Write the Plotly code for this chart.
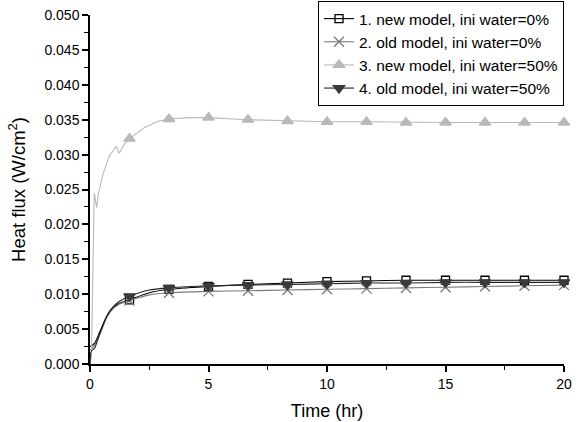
import plotly.graph_objects as go

# ---- data ----
names = [
    "1. new model, ini water=0%",
    "2. old model, ini water=0%",
    "3. new model, ini water=50%",
    "4. old model, ini water=50%",
]

t1 = [0, 0.2, 0.4, 0.6, 0.8, 1.0, 1.25, 1.667, 2.5, 3.333, 5.0, 6.667, 8.333, 10.0, 11.667, 13.333, 15.0, 16.667, 18.333, 20.0]
q1 = [0.0025, 0.0030, 0.0045, 0.0061, 0.0074, 0.0082, 0.0087, 0.0092, 0.0102, 0.0107, 0.0111, 0.0114, 0.0116, 0.0118, 0.0119, 0.0120, 0.0120, 0.0120, 0.0120, 0.0120]

t2 = [0, 0.2, 0.45, 0.7, 1.0, 1.25, 1.667, 2.5, 3.333, 5.0, 6.667, 8.333, 10.0, 11.667, 13.333, 15.0, 16.667, 18.333, 20.0]
q2 = [0.0020, 0.0027, 0.0045, 0.0066, 0.0080, 0.0086, 0.0091, 0.0099, 0.0102, 0.0104, 0.0105, 0.0106, 0.0107, 0.0108, 0.0109, 0.0110, 0.0111, 0.0112, 0.0113]

t3 = [0, 0.06, 0.18, 0.28, 0.36, 0.55, 0.8, 1.1, 1.23, 1.45, 1.667, 2.3, 2.9, 3.333, 4.2, 5.0, 6.667, 8.333, 10.0, 11.667, 13.333, 15.0, 16.667, 18.333, 20.0]
q3 = [0.0000, 0.0010, 0.0245, 0.0224, 0.0245, 0.0272, 0.0297, 0.0312, 0.0302, 0.0315, 0.0323, 0.0339, 0.0348, 0.0351, 0.0353, 0.0353, 0.0350, 0.0348, 0.0347, 0.0347, 0.0346, 0.0346, 0.0346, 0.0346, 0.0346]

t4 = [0, 0.05, 0.2, 0.4, 0.7, 1.0, 1.25, 1.667, 2.5, 3.333, 5.0, 6.667, 8.333, 10.0, 11.667, 13.333, 15.0, 16.667, 18.333, 20.0]
q4 = [0.0000, 0.0018, 0.0023, 0.0042, 0.0068, 0.0083, 0.0090, 0.0097, 0.0106, 0.0109, 0.0112, 0.0113, 0.0114, 0.0115, 0.0116, 0.0116, 0.0117, 0.0117, 0.0117, 0.0117]

# times at which symbols are drawn on the curves
marker_times = [1.667, 3.333, 5.0, 6.667, 8.333, 10.0, 11.667, 13.333, 15.0, 16.667, 18.333, 20.0]

x_ticks = [0, 5, 10, 15, 20]
y_ticks = [0.000, 0.005, 0.010, 0.015, 0.020, 0.025, 0.030, 0.035, 0.040, 0.045, 0.050]

# ---- styling ----
styles = [
    dict(color="#000000", symbol="square-open", size=8, shape="spline", mcolor="#000000"),
    dict(color="#7a7a7a", symbol="x-thin-open", size=10, shape="spline", mcolor="#7a7a7a"),
    dict(color="#b9b9b9", symbol="triangle-up", size=10, shape="linear", mcolor="#b9b9b9"),
    dict(color="#222222", symbol="triangle-down", size=10, shape="spline", mcolor="#3a3a3a"),
]

fig = go.Figure()
for name, ts, qs, st in zip(names, [t1, t2, t3, t4], [q1, q2, q3, q4], styles):
    # curve
    fig.add_trace(go.Scatter(
        x=ts, y=qs, mode="lines", showlegend=False, hoverinfo="skip",
        line=dict(color=st["color"], width=1.1, shape=st["shape"], smoothing=0.6),
    ))
    # symbols on the curve
    mx = [t for t in ts if any(abs(t - m) < 1e-6 for m in marker_times)]
    my = [q for t, q in zip(ts, qs) if any(abs(t - m) < 1e-6 for m in marker_times)]
    fig.add_trace(go.Scatter(
        x=mx, y=my, mode="markers", showlegend=False, cliponaxis=False,
        marker=dict(symbol=st["symbol"], size=st["size"], color=st["mcolor"],
                    line=dict(color=st["mcolor"], width=1.3)),
    ))
    # legend entry
    fig.add_trace(go.Scatter(
        x=[None], y=[None], mode="lines+markers", name=name,
        line=dict(color=st["color"], width=1.1),
        marker=dict(symbol=st["symbol"], size=st["size"], color=st["mcolor"],
                    line=dict(color=st["mcolor"], width=1.3)),
    ))

fig.update_layout(
    width=579, height=422,
    margin=dict(l=90, r=15, t=15, b=58, autoexpand=False),
    paper_bgcolor="white", plot_bgcolor="white",
    font=dict(family="Liberation Sans, Arial, sans-serif", size=14, color="black"),
    showlegend=True,
    legend=dict(
        x=1.0, y=1.04, xanchor="right", yanchor="top",
        bordercolor="black", borderwidth=1, bgcolor="white",
        font=dict(size=15.5), itemwidth=30,
        tracegroupgap=0,
    ),
    xaxis=dict(
        range=[0, 20], tickvals=x_ticks, ticktext=[str(v) for v in x_ticks],
        showgrid=False, zeroline=False, showline=True, linecolor="black", linewidth=1.5,
        ticks="outside", ticklen=6, tickwidth=1.5, tickcolor="black",
        minor=dict(dtick=2.5, ticks="outside", ticklen=4, tickwidth=1.2, tickcolor="black"),
        title=dict(text="Time (hr)", font=dict(size=18), standoff=14),
        tickfont=dict(size=14), automargin=False,
    ),
    yaxis=dict(
        range=[0, 0.05], tickvals=y_ticks, ticktext=[f"{v:.3f}" for v in y_ticks],
        showgrid=False, zeroline=False, showline=True, linecolor="black", linewidth=1.5,
        ticks="outside", ticklen=6, tickwidth=1.5, tickcolor="black",
        minor=dict(dtick=0.0025, ticks="outside", ticklen=4, tickwidth=1.2, tickcolor="black"),
        title=dict(text="Heat flux (W/cm<sup>2</sup>)", font=dict(size=18.5), standoff=14),
        tickfont=dict(size=14), automargin=False,
    ),
)

fig.write_html("out.html")
